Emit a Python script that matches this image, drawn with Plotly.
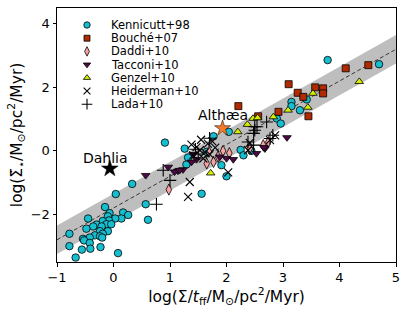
import plotly.graph_objects as go

# ---------------- data ----------------
kenn_x = [0.33, 0.04, -0.15, 0.17, -0.07, -0.10, 0.26, -0.45, 0.14, 0.03, -0.08, -0.19, -0.30, -0.125,
          -0.04, -0.36, -0.21, -0.48, -0.10, -0.24, -0.78, -0.19, -0.33, -0.24, -0.54, -0.42, -0.52,
          -0.20, -0.42, -0.78, -0.23, -0.56, -0.41, 0.08, -0.67, 0.57, 0.61,
          0.91, 1.56, 1.29, 1.26, 1.32, 1.77, 2.04, 1.91, 2.00, 1.65, 2.25, 2.30, 2.44, 3.15, 3.15,
          3.30, 3.42, 2.89, 2.96, 3.79, 4.70]
kenn_y = [-1.04, -1.36, -1.77, -1.94, -1.96, -2.06, -2.02, -2.13, -2.13, -2.13, -2.19, -2.21, -2.32, -2.31,
          -2.31, -2.38, -2.38, -2.45, -2.53, -2.53, -2.61, -2.61, -2.66, -2.69, -2.77, -2.73, -2.82,
          -2.73, -2.90, -3.00, -3.03, -3.11, -3.08, -3.22, -3.36, -1.68, -2.17,
          0.26, -1.35, -0.43, 0.07, -0.21, 0.46, 0.60, -0.45, -0.80, -0.03, 0.03, -0.14, 0.00, 1.54, 1.41,
          1.28, 1.62, 1.02, 0.86, 2.86, 2.73]

bouche_x = [2.21, 2.56, 2.92, 3.10, 3.26, 3.36, 3.45, 3.57, 3.71, 3.71, 4.11, 4.51]
bouche_y = [1.41, 1.09, 1.23, 2.10, 1.83, 1.70, 1.09, 2.00, 1.97, 1.81, 2.60, 2.70]

daddi_x = [0.98, 1.69, 1.94, 2.05, 1.77, 1.65, 2.41, 2.65, 2.74, 1.85]
daddi_y = [-1.22, -0.03, 0.00, -0.07, -0.35, -0.40, 0.07, 0.18, 0.28, -0.18]

tacconi_x = [0.57, 0.97, 1.14, 1.23, 1.08, 1.17, 1.41, 1.47, 1.38, 1.88, 2.00, 2.12, 2.53, 2.68, 2.66, 3.07]
tacconi_y = [-0.77, -0.51, -0.63, -0.59, -0.66, -0.61, -0.11, -0.27, -0.35, -0.19, -0.24, -0.27, -0.08, 0.07, 0.11, 0.42]

genzel_x = [1.72, 2.20, 2.37, 2.47, 2.55, 2.83, 3.09, 3.44, 3.53, 4.35]
genzel_y = [-0.70, 0.60, 0.83, 1.02, 1.04, 1.07, 1.28, 1.37, 1.81, 2.18]

heid_x = [1.32, 1.35, 2.03, 1.47, 1.53, 1.41, 1.59, 1.67, 1.55, 1.75, 2.38, 2.41, 2.77, 2.86, 1.62, 1.80, 1.38, 1.70]
heid_y = [-1.45, -0.98, -0.68, 0.12, 0.02, -0.14, -0.24, 0.23, 0.35, 0.30, 0.02, 0.25, 0.34, 0.49, -0.05, 0.10, 0.20, -0.10]

lada_x = [0.76, 0.88, 1.00, 2.71, 2.50, 2.54, 2.50, 2.48, 2.82, 2.77, 2.38, 2.48, 1.50, 1.70, 1.45]
lada_y = [-1.68, -0.61, -0.93, 0.91, 0.76, 0.76, 0.65, 0.55, 0.49, 0.39, 0.28, 0.18, -0.10, 0.40, 0.05]

dahlia_x = [-0.065]
dahlia_y = [-0.56]
althaea_x = [1.93]
althaea_y = [0.71]

band_x = [-1, 5]
band_mid = [-2.80, 3.20]
band_lo = [-3.25, 2.75]
band_hi = [-2.35, 3.65]

legend_names = ["Kennicutt+98", "Bouché+07", "Daddi+10", "Tacconi+10", "Genzel+10", "Heiderman+10", "Lada+10"]

# ---------------- style ----------------
FONT = "DejaVu Sans"
edge = dict(color="black", width=0.8)
styles = [
    dict(symbol="circle", size=7.5, color="#17becf", line=edge),
    dict(symbol="square", size=7, color="#b22a00", line=edge),
    dict(symbol="diamond-tall", size=8, color="#f7a3a3", line=edge),
    dict(symbol="triangle-down", size=7.5, color="#4d0a45", line=edge),
    dict(symbol="triangle-up", size=7.5, color="#d4f000", line=edge),
    dict(symbol="x-thin", size=8, color="black", line=dict(color="black", width=1.1)),
    dict(symbol="cross-thin", size=9, color="black", line=dict(color="black", width=1.1)),
]
series = [(kenn_x, kenn_y), (bouche_x, bouche_y), (daddi_x, daddi_y), (tacconi_x, tacconi_y),
          (genzel_x, genzel_y), (heid_x, heid_y), (lada_x, lada_y)]

fig = go.Figure()

# band
fig.add_trace(go.Scatter(x=band_x, y=band_lo, mode="lines", line=dict(width=0), showlegend=False, hoverinfo="skip"))
fig.add_trace(go.Scatter(x=band_x, y=band_hi, mode="lines", line=dict(width=0), fill="tonexty",
                         fillcolor="rgb(190,190,190)", showlegend=False, hoverinfo="skip"))
fig.add_trace(go.Scatter(x=band_x, y=band_mid, mode="lines", line=dict(color="rgb(40,40,40)", width=0.9, dash="4px,2.5px"),
                         showlegend=False, hoverinfo="skip"))

for name, (xs, ys), st in zip(legend_names, series, styles):
    fig.add_trace(go.Scatter(x=xs, y=ys, mode="markers", name=name, marker=st, showlegend=False))

fig.add_trace(go.Scatter(x=dahlia_x, y=dahlia_y, mode="markers", name="Dahlia",
                         marker=dict(symbol="star", size=12.5, color="black", line=dict(color="black", width=0.5)),
                         showlegend=False))
fig.add_trace(go.Scatter(x=althaea_x, y=althaea_y, mode="markers", name="Althæa",
                         marker=dict(symbol="star", size=12, color="#f5792a", line=dict(color="black", width=0.5)),
                         showlegend=False))

# manual legend (pixel-space overlay axes)
row0, dy = 25, 13.2
leg_marker_x = 87
leg_text_x = 109
for i, (name, st) in enumerate(zip(legend_names, styles)):
    yy = row0 + dy * i
    m = dict(st)
    m["size"] = st["size"] * 0.85
    fig.add_trace(go.Scatter(x=[leg_marker_x], y=[yy], xaxis="x2", yaxis="y2", mode="markers",
                             marker=m, showlegend=False, hoverinfo="skip", cliponaxis=False))
    fig.add_annotation(x=leg_text_x, y=yy, xref="x2", yref="y2", text=name, showarrow=False,
                       xanchor="left", yanchor="middle", font=dict(family=FONT, size=11.5, color="black"))

fig.add_annotation(x=-0.135, y=-0.22, text="Dahlia", showarrow=False, font=dict(family=FONT, size=14, color="black"))
fig.add_annotation(x=1.93, y=1.12, text="Althæa", showarrow=False, font=dict(family=FONT, size=14, color="black"))

axis_common = dict(showline=True, linecolor="black", linewidth=1, mirror=True, ticks="outside", ticklen=3.5,
                   tickwidth=1, tickcolor="black", showgrid=False, zeroline=False, automargin=False,
                   tickfont=dict(family=FONT, size=13, color="black"))

fig.update_layout(
    width=407, height=311,
    margin=dict(l=57, r=11, t=8, b=49),
    paper_bgcolor="white", plot_bgcolor="white",
    font=dict(family=FONT, color="black"),
    xaxis=dict(range=[-1, 5], dtick=1, **axis_common,
               title=dict(text="log(Σ/<i>t</i><sub>ff</sub>/M<sub>⊙</sub>/pc<sup>2</sup>/Myr)",
                          font=dict(family=FONT, size=15.5), standoff=3)),
    yaxis=dict(range=[-3.5, 4.5], tickvals=[-2, 0, 2, 4], **axis_common,
               title=dict(text="log(Σ\u0307<sub>⋆</sub>/M<sub>⊙</sub>/pc<sup>2</sup>/Myr)",
                          font=dict(family=FONT, size=15.5), standoff=4)),
    xaxis2=dict(overlaying="x", range=[57, 396], visible=False, automargin=False),
    yaxis2=dict(overlaying="y", range=[262, 8], visible=False, automargin=False),
    showlegend=False,
)

fig.write_html("out.html", config={"displayModeBar": False},
               post_script="document.body.style.margin='0';document.body.style.overflow='hidden';")
